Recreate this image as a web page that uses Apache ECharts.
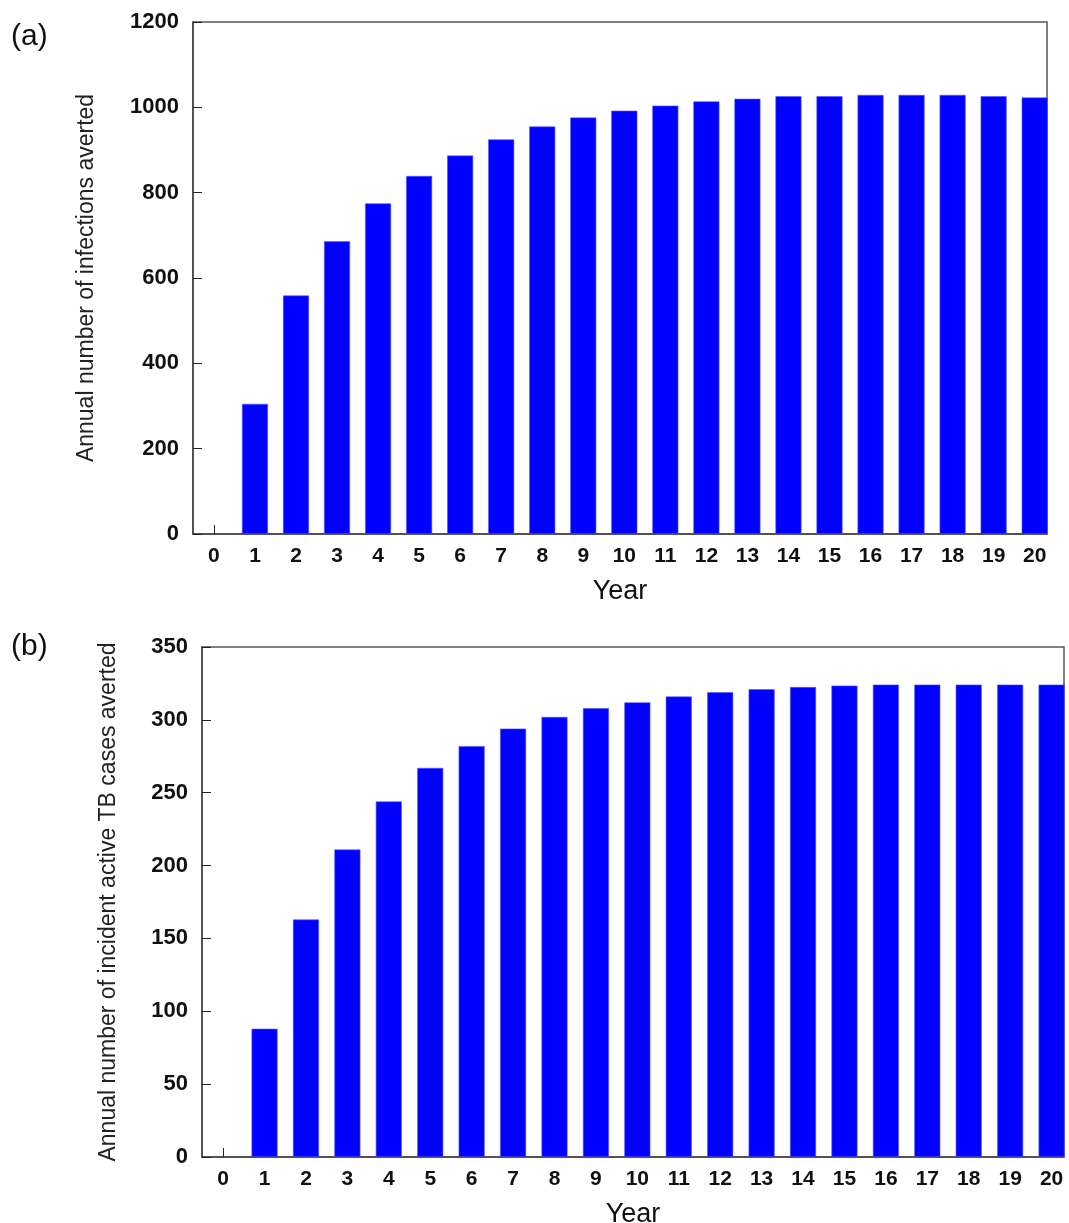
<!DOCTYPE html>
<html>
<head>
<meta charset="utf-8">
<script src="https://cdn.jsdelivr.net/npm/echarts@6/dist/echarts.min.js"></script>
<style>
html,body{margin:0;padding:0;background:#fff;}
#c{width:1069px;height:1223px;}
</style>
</head>
<body>
<div id="c"></div>
<script>
const years = [0,1,2,3,4,5,6,7,8,9,10,11,12,13,14,15,16,17,18,19,20];
const yearTicks = ["0","1","2","3","4","5","6","7","8","9","10","11","12","13","14","15","16","17","18","19","20"];
const infectionsAverted = [0,305,559,686,775,839,887,925,955,976,992,1004,1014,1020,1026,1026,1029,1029,1029,1026,1023];
const tbCasesAverted = [0,88,163,211,244,267,282,294,302,308,312,316,319,321,322.5,323.5,324.2,324.2,324.2,324.2,324.2];
const titleA = "Annual number of infections averted";
const titleB = "Annual number of incident active TB cases averted";
const xTitle = "Year";

const font = "'Liberation Sans', Arial, sans-serif";
const axisCol = '#444';

function xAxisCfg(gi){
  return {
    type:'value', gridIndex:gi, min:-0.51, max:20.3,
    name:xTitle, nameLocation:'middle', nameGap:44,
    nameTextStyle:{fontFamily:font, fontSize:27, color:'#111'},
    axisLine:{show:true, onZero:false, lineStyle:{color:axisCol, width:1.5}},
    axisTick:{show:true, inside:true, length:9, customValues:years, lineStyle:{color:'#222'}},
    axisLabel:{customValues:years, formatter:v=>yearTicks[years.indexOf(v)], margin:12,
      fontFamily:font, fontWeight:'bold', fontSize:21, color:'#111'},
    splitLine:{show:false}
  };
}
function yAxisCfg(gi, max, interval, name, gap){
  return {
    type:'value', gridIndex:gi, min:0, max:max, interval:interval,
    name:name, nameLocation:'middle', nameGap:gap, nameRotate:90,
    nameTextStyle:{fontFamily:font, fontSize:23, color:'#222'},
    axisLine:{show:true, onZero:false, lineStyle:{color:axisCol, width:1.5}},
    axisTick:{show:true, inside:true, length:9, lineStyle:{color:'#222'}},
    axisLabel:{margin:14, formatter:v=>String(v), fontFamily:font, fontWeight:'bold', fontSize:22, color:'#111'},
    splitLine:{show:false}
  };
}
function barData(vals){ return years.map((y,i)=>[y, vals[i] === 0 ? '-' : vals[i]]); }

const chart = echarts.init(document.getElementById('c'), null, {renderer:'canvas'});
chart.setOption({
  animation:false,
  backgroundColor:'#fff',
  graphic:[
    {type:'text', left:11, top:22, style:{text:'(a)', font:'30px '+font, fill:'#111'}},
    {type:'text', left:11, top:632, style:{text:'(b)', font:'30px '+font, fill:'#111'}}
  ],
  grid:[
    {left:193, top:22, width:854, height:512, outerBoundsMode:'none', containLabel:false, show:true, borderColor:'#555', borderWidth:1.5, backgroundColor:'transparent'},
    {left:202, top:647, width:862, height:510, outerBoundsMode:'none', containLabel:false, show:true, borderColor:'#555', borderWidth:1.5, backgroundColor:'transparent'}
  ],
  xAxis:[xAxisCfg(0), xAxisCfg(1)],
  yAxis:[
    yAxisCfg(0, 1200, 200, titleA, 95),
    yAxisCfg(1, 350, 50, titleB, 82)
  ],
  series:[
    {type:'bar', xAxisIndex:0, yAxisIndex:0, barWidth:26,
     itemStyle:{color:'#0000ff', borderColor:'#5555ff', borderWidth:0.6},
     data:barData(infectionsAverted)},
    {type:'bar', xAxisIndex:1, yAxisIndex:1, barWidth:26,
     itemStyle:{color:'#0000ff', borderColor:'#5555ff', borderWidth:0.6},
     data:barData(tbCasesAverted)}
  ]
});
</script>
</body>
</html>
